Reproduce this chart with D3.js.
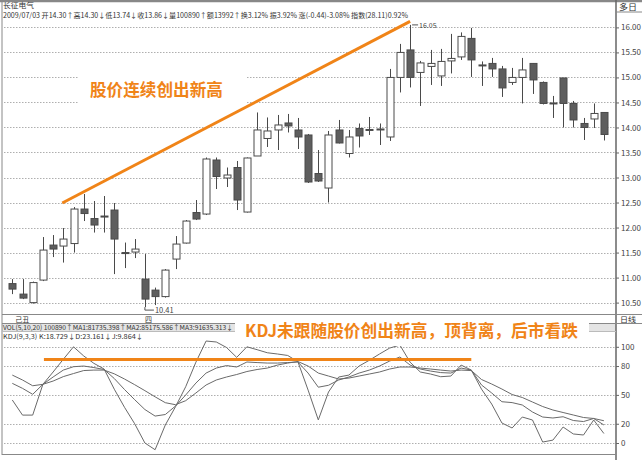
<!DOCTYPE html>
<html><head><meta charset="utf-8">
<script src="https://cdn.jsdelivr.net/npm/d3@7"></script>
<style>body{margin:0;background:#fff}svg{display:block}</style>
</head><body><svg id="c" width="642" height="460"></svg>
<script>
// ---------- DATA ----------
const opens  = [10.88,10.67,10.50,10.95,11.65,11.63,11.68,12.37,12.18,12.23,12.35,11.50,11.51,10.97,10.75,10.62,11.37,11.69,12.30,12.27,13.35,12.99,13.20,12.31,13.43,13.78,13.95,14.09,13.95,13.85,13.08,12.79,13.95,13.48,13.98,13.95,13.96,13.81,15.00,15.55,15.10,15.22,15.03,15.33,15.41,15.78,15.25,15.28,15.17,14.90,15.00,15.28,14.90,14.49,14.99,14.48,14.08,14.17,14.30];
const highs  = [10.97,10.97,10.92,11.81,11.85,11.99,12.41,12.67,12.53,12.63,12.49,11.70,11.77,11.47,10.80,11.17,11.83,12.15,12.55,13.40,13.40,13.20,13.33,13.40,14.30,14.20,14.25,14.27,14.19,13.87,13.55,13.93,14.15,13.95,14.08,14.21,14.08,15.17,15.67,16.05,15.33,15.55,15.57,15.87,15.90,15.99,15.32,15.39,15.23,15.19,15.39,15.28,14.92,14.63,14.99,14.53,14.19,14.48,14.30];
const lows   = [10.67,10.57,10.48,10.93,11.41,11.30,11.50,12.13,11.90,11.90,11.07,11.19,11.39,10.41,10.45,10.60,11.17,11.68,12.15,12.25,12.77,12.81,12.35,12.30,13.43,13.61,13.55,13.90,13.57,12.89,12.91,12.50,13.68,13.40,13.60,13.85,13.65,13.73,14.70,14.80,14.43,14.85,14.83,15.08,15.35,15.01,14.83,15.01,14.61,14.85,14.48,14.67,14.46,14.19,14.00,14.00,13.75,13.99,13.74];
const closes = [10.77,10.59,10.90,11.55,11.57,11.77,12.37,12.28,12.05,12.22,11.77,11.49,11.57,10.57,10.62,11.15,11.67,12.13,12.17,13.37,13.02,13.05,12.55,13.39,13.95,13.93,14.05,14.03,13.81,12.91,12.93,13.85,13.69,13.81,13.83,13.96,13.97,15.00,15.50,15.00,15.29,15.28,15.32,15.38,15.82,15.35,15.25,15.17,14.79,15.00,15.15,14.95,14.48,14.49,14.48,14.15,14.00,14.28,13.86];

const kValues = [62,56.8,50.6,61,68.6,75.8,79.3,80,78.4,76.4,67,55.6,45,34.8,28,29.6,38.4,49.9,62.3,72.7,77.9,80.5,79,84.2,83.6,83.1,83.1,83.6,84.2,72.7,58,60,65.5,68.6,72.7,75.8,80,85.2,89.4,81,76.9,74.8,73.2,72.7,77.9,75.8,60.3,52,42.9,42,39.5,32.2,27,26,27.3,23.4,22.3,25.5,18.729];
const dValues = [70.6,65.5,59.5,61,64.4,69,72.2,75.3,75.8,75.8,71.9,66.5,60.6,54.4,48,41.9,39.8,44,52,60.3,65.5,68.6,71.2,74.3,76.4,77.9,81,83.1,84.7,80,72.7,69.6,66.5,67.5,69.6,71.7,73.8,76.9,79,79,77.9,76.9,75.8,74.8,75.8,75.3,66,61.3,56.1,50.4,47.3,42.6,37.9,34.3,31.7,29.1,26.5,25.5,23.161];
const jValues = [44.7,29,29,61,73.8,87,100,90.5,82.8,76.9,55.9,37.1,20,0,-7,18.7,37.7,58.5,84,106,105,99.3,89,100,97,93.8,92.5,91,84.5,55,24,53,68.6,70.6,80,86,92.5,98.7,101.8,84,73.8,71.7,68.9,69.6,81,75.8,56,40.5,20.8,15.6,27,23.9,1,3,16.6,9.4,8.3,23.9,9.864];

const priceTicks = [16,15.5,15,14.5,14,13.5,13,12.5,12,11.5,11,10.5];
const kdjTicks = [100,80,50,20,0];
const dateLabels = [{i:1.3,t:"己丑"},{i:14,t:"四"}];

const stockName = "长征电气";
const infoLine = "2009/07/03 开14.30↑高14.30↓低13.74↓收13.86↓量100890↑额13992↑换3.12% 振3.92% 涨(-0.44)-3.08% 指数(28.11)0.92%";
const volLine = "VOL(5,10,20) 100890↑MA1:81735.398↑MA2:85175.586↑MA3:91635.313↓";
const kdjLine = "KDJ(9,3,3) K:18.729↓D:23.161↓J:9.864↓";
const note1 = "股价连续创出新高";
const note2 = "KDJ未跟随股价创出新高，顶背离，后市看跌";
const highMark = {i:40, p:16.05, t:"16.05"};
const lowMark = {i:14, p:10.41, t:"10.41"};
const trendLine = [{i:5.9,p:12.49},{i:40,p:16.12}];
const kdjLevelLine = [{i:4.1,v:86.8},{i:46.0,v:86.8}];

// ---------- CHART ----------
const svg = d3.select('#c');
const ORANGE = "#f08418";
const N = opens.length;
const idx = d3.range(1, N+1);
const x = d3.scaleLinear().domain([1, N]).range([12.3, 603.9]);
const yP = d3.scaleLinear().domain([10.5, 16]).range([302.6, 27.4]);
const yK = d3.scaleLinear().domain([0, 100]).range([443, 346.8]);
const AX = 616;
const font = "'Noto Sans CJK SC','DejaVu Sans',sans-serif";

// grey band of the VOL row
svg.append('rect').attr('x',2).attr('y',323.5).attr('width',AX-2).attr('height',8).attr('fill','#e4e4e4');

// frame
const frame = svg.append('g').attr('stroke','#888').attr('fill','none');
frame.append('line').attr('x1',0).attr('x2',642).attr('y1',1).attr('y2',1).attr('stroke-width',2.5);
frame.append('line').attr('x1',2).attr('x2',2).attr('y1',0).attr('y2',455);
frame.append('line').attr('x1',AX).attr('x2',AX).attr('y1',0).attr('y2',460).attr('stroke','#666').attr('stroke-width',1.5);
frame.append('line').attr('x1',2).attr('x2',AX).attr('y1',454.5).attr('y2',454.5);
frame.append('line').attr('x1',AX).attr('x2',642).attr('y1',12).attr('y2',12);
frame.append('line').attr('x1',2).attr('x2',642).attr('y1',314.5).attr('y2',314.5);
frame.append('line').attr('x1',2).attr('x2',642).attr('y1',323.5).attr('y2',323.5);
frame.append('line').attr('x1',2).attr('x2',AX).attr('y1',331.5).attr('y2',331.5).attr('stroke','#bbb');

// grids
const grid = svg.append('g').attr('stroke','#9a9a9a').attr('stroke-dasharray','1.5,1.5').attr('stroke-width',0.8);
grid.selectAll('.gp').data(priceTicks).join('line')
  .attr('x1',4).attr('x2',AX-1).attr('y1',d=>Math.round(yP(d))+0.5).attr('y2',d=>Math.round(yP(d))+0.5);
grid.selectAll('.gk').data(kdjTicks).join('line')
  .attr('x1',4).attr('x2',AX-1).attr('y1',d=>Math.round(yK(d))+0.5).attr('y2',d=>Math.round(yK(d))+0.5);

// axes (right)
const axP = d3.axisRight(yP).tickValues(priceTicks).tickFormat(d3.format('.2f')).tickSize(3).tickPadding(2);
const gP = svg.append('g').attr('transform',`translate(${AX},0)`).call(axP);
const axK = d3.axisRight(yK).tickValues(kdjTicks).tickFormat(d3.format('d')).tickSize(3).tickPadding(2);
const gK = svg.append('g').attr('transform',`translate(${AX},0)`).call(axK);
[gP,gK].forEach(g=>{
  g.select('.domain').remove();
  g.selectAll('line').attr('stroke','#666');
  g.selectAll('text').attr('font-size',8).attr('fill','#444').attr('font-family',font);
});

// note box for first annotation (white background)
svg.append('rect').attr('x',78).attr('y',66).attr('width',168).attr('height',44).attr('fill','#fff');

// candles
const cg = svg.append('g');
cg.selectAll('.wick').data(idx).join('line')
  .attr('x1',i=>Math.round(x(i))+0.5).attr('x2',i=>Math.round(x(i))+0.5)
  .attr('y1',i=>yP(highs[i-1])).attr('y2',i=>yP(lows[i-1]))
  .attr('stroke','#4a4a4a').attr('stroke-width',1);
cg.selectAll('.body').data(idx).join('rect')
  .attr('x',i=>Math.round(x(i))-3)
  .attr('width',7)
  .attr('y',i=>yP(Math.max(opens[i-1],closes[i-1])))
  .attr('height',i=>Math.max(1,Math.abs(yP(opens[i-1])-yP(closes[i-1]))))
  .attr('fill',i=>closes[i-1]>=opens[i-1]?'#fff':'#5e5e5e')
  .attr('stroke','#4a4a4a').attr('stroke-width',1);

// high / low marks
svg.append('line').attr('x1',x(highMark.i)+2).attr('x2',x(highMark.i)+8)
  .attr('y1',yP(highMark.p)).attr('y2',yP(highMark.p)).attr('stroke','#555');
svg.append('text').attr('x',x(highMark.i)+9).attr('y',yP(highMark.p)+3).text(highMark.t)
  .attr('font-size',7).attr('fill','#444').attr('font-family',font);
svg.append('polyline').attr('points',`${x(lowMark.i)},${yP(lowMark.p)} ${x(lowMark.i)},${yP(lowMark.p)+3} ${x(lowMark.i)+9},${yP(lowMark.p)+3}`)
  .attr('fill','none').attr('stroke','#555');
svg.append('text').attr('x',x(lowMark.i)+10).attr('y',yP(lowMark.p)+5.5).text(lowMark.t)
  .attr('font-size',7.5).attr('fill','#444').attr('font-family',font);

// trend line
svg.append('line').attr('x1',x(trendLine[0].i)).attr('y1',yP(trendLine[0].p))
  .attr('x2',x(trendLine[1].i)).attr('y2',yP(trendLine[1].p))
  .attr('stroke',ORANGE).attr('stroke-width',3);

// KDJ lines
const line = d3.line().x((d,i)=>x(i+1)).y(d=>yK(d));
[kValues,dValues,jValues].forEach(arr=>{
  svg.append('path').attr('d',line(arr)).attr('fill','none').attr('stroke','#6a6a6a').attr('stroke-width',1);
});

// KDJ level line
svg.append('line').attr('x1',x(kdjLevelLine[0].i)).attr('x2',x(kdjLevelLine[1].i))
  .attr('y1',yK(kdjLevelLine[0].v)).attr('y2',yK(kdjLevelLine[1].v))
  .attr('stroke',ORANGE).attr('stroke-width',3);

// texts
const txt = (xx,yy,t,size,opts={})=>{
  const el = svg.append('text').attr('x',xx).attr('y',yy).text(t)
    .attr('font-size',size).attr('fill',opts.fill||'#333').attr('font-family',font);
  if(opts.len){el.attr('textLength',opts.len).attr('lengthAdjust','spacingAndGlyphs');}
  if(opts.weight){el.attr('font-weight',opts.weight);}
  return el;
};
txt(3,7.8,stockName,6.5,{len:31});
txt(3,18.2,infoLine,7,{len:405});
txt(619,9.5,"多日",8,{len:18});
dateLabels.forEach(d=>txt(x(d.i),321.5,d.t,7));
txt(3,330.3,volLine,6.8,{len:230});
txt(3,338.8,kdjLine,6.8,{len:140});

// note 2 box (drawn over the panel separators)
svg.append('rect').attr('x',235).attr('y',315).attr('width',354).attr('height',31).attr('fill','#fff');
svg.append('rect').attr('x',AX+1).attr('y',315).attr('width',25).attr('height',8).attr('fill','#fff');
txt(620,321.5,"日线",7,{len:16});

txt(90,96,note1,17,{fill:ORANGE,weight:'bold',len:133});
txt(245,337,note2,17,{fill:ORANGE,weight:'bold',len:333});
</script></body></html>
